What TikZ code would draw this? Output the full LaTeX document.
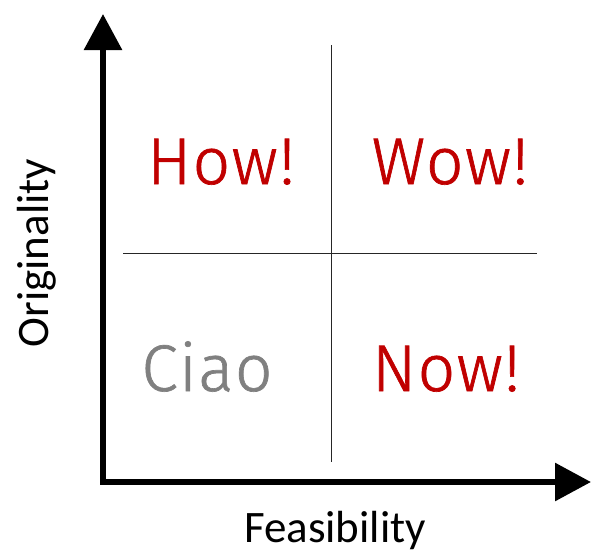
\documentclass[tikz,border=0pt]{standalone}
\usepackage{fontspec}
\setmainfont{Carlito}
\newfontfamily\quadfont[LetterSpace=2,FakeBold=1]{Fira Sans Light}
\usetikzlibrary{arrows.meta}
\definecolor{hotred}{HTML}{C00000}
\definecolor{coolgray}{HTML}{808080}
\begin{document}
\begin{tikzpicture}[x=1pt,y=-1pt,
  axis/.style={line width=6pt,-{Triangle[length=36pt,width=37pt]}},
  divider/.style={line width=0.9pt,draw=black!85},
  quadlabel/.style={font=\quadfont\fontsize{66}{66}\selectfont,anchor=base},
  axislabel/.style={font=\fontsize{45}{45}\selectfont}]
  \useasboundingbox (0,0) rectangle (591,552);
  % axes
  \coordinate (origin) at (103,482);
  \coordinate (ytip) at (103,14);
  \coordinate (xtip) at (591,482);
  \draw[axis] ([yshift=3pt]origin) -- (ytip);
  \draw[axis] ([xshift=-3pt]origin) -- (xtip);
  % quadrant dividers
  \coordinate (vtop) at (331,45);
  \coordinate (vbot) at (331,462);
  \coordinate (hleft) at (123,253);
  \coordinate (hright) at (537,253);
  \draw[divider] (vtop) -- (vbot);
  \draw[divider] (hleft) -- (hright);
  % quadrant labels
  \node[quadlabel,text=hotred] (how) at (221,184) {How!};
  \node[quadlabel,text=hotred] (wow) at (450,184) {Wow!};
  \node[quadlabel,text=coolgray] (ciao) at (207,391) {Ciao};
  \node[quadlabel,text=hotred] (now) at (446,391) {Now!};
  % axis labels
  \node[axislabel,anchor=base] (feas) at (335,542) {Feasibility};
  \node[axislabel,anchor=base,rotate=90] (orig) at (48,253) {Originality};
\end{tikzpicture}
\end{document}
